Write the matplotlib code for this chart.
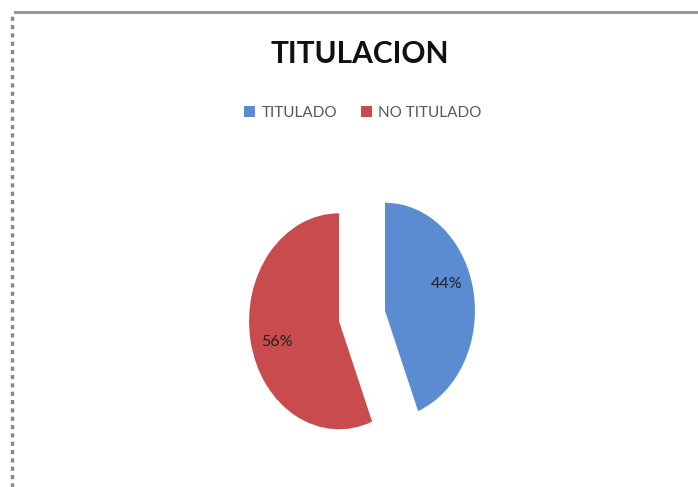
import matplotlib
matplotlib.use("Agg")
import matplotlib.pyplot as plt
from matplotlib.lines import Line2D

# datos
categorias = ["TITULADO", "NO TITULADO"]
porcentajes = [44, 56]
colores = ["#5B8BD0", "#C84B4D"]

W, H = 698, 487
fig = plt.figure(figsize=(W / 100, H / 100), dpi=100)
fig.patch.set_facecolor("white")

# marco del grafico (linea superior gris y borde punteado a la izquierda)
fig.add_artist(Line2D([15 / W, 1], [1 - 12 / H, 1 - 12 / H], color="#999999", lw=2.2))
fig.add_artist(Line2D([12 / W, 12 / W], [0, 1 - 14 / H], color="#8a8a8a", lw=2.5,
                      linestyle=(0, (1.2, 1.2))))

# torta (elipse: escala horizontal 90 px, vertical 108 px por unidad)
ax = fig.add_axes([222 / W, (H - 446) / H, 280 / W, 260 / H])
wedges, textos, pcts = ax.pie(
    porcentajes,
    colors=colores,
    startangle=90,
    counterclock=False,
    explode=[0.26, 0.26],
    autopct="%1.0f%%",
    pctdistance=0.7,
    wedgeprops=dict(linewidth=0),
    textprops=dict(fontfamily="Lato", fontsize=11.5, color="#222222"),
)
# etiquetas un poco giradas como en el original
for p, dy in zip(pcts, [0.12, -0.06]):
    x, y = p.get_position()
    p.set_position((x, y + dy))

ax.set_aspect("auto")
ax.set_xlim(-1.556, 1.556)
ax.set_ylim(-1.204, 1.204)
ax.axis("off")

fig.text(360 / W, 1 - 54 / H, "TITULACION", ha="center", va="center",
         fontfamily="Lato", fontweight="bold", fontsize=21.5, color="#111111")

leg = fig.legend(wedges, categorias, loc="center", bbox_to_anchor=(363 / W, 1 - 113 / H),
                 ncol=2, frameon=False, prop=dict(family="Lato", size=11),
                 handlelength=0.7, handleheight=0.7, handletextpad=0.4, columnspacing=1.6)
for t in leg.get_texts():
    t.set_color("#595959")

plt.savefig("out.png", dpi=100)
